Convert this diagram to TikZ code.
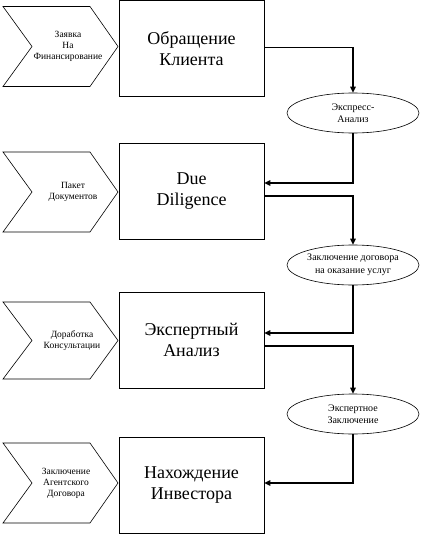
\documentclass[tikz,border=0pt]{standalone}
\usepackage{fontspec}
\setmainfont{Liberation Serif}
\usetikzlibrary{shapes.geometric,arrows.meta,calc}
\begin{document}
\begin{tikzpicture}[x=1pt,y=-1pt,
  proc/.style={draw, line width=0.7pt, minimum width=145pt, minimum height=96pt, inner sep=0pt, align=center, font=\fontsize{18}{21}\selectfont},
  evt/.style={ellipse, draw, line width=0.6pt, minimum width=132pt, minimum height=40pt, inner sep=0pt, align=center, font=\fontsize{10}{12.5}\selectfont},
  chev/.style={draw, line width=0.6pt},
  lbl/.style={align=center, inner sep=0pt, font=\fontsize{9.5}{11}\selectfont},
  flow/.style={line width=1.4pt, -{Triangle[length=6pt,width=5.5pt]}}
]
\useasboundingbox (0,0) rectangle (420,535);
% process boxes
\node[proc] (b1) at (191.5,48.5) {Обращение\\Клиента};
\node[proc] (b2) at (191.5,191) {Due\\Diligence};
\node[proc] (b3) at (191.5,340) {Экспертный\\Анализ};
\node[proc] (b4) at (191.5,485.5) {Нахождение\\Инвестора};
% events
\node[evt] (e1) at (353,113) {Экспресс-\\Анализ};
\node[evt] (e2) at (353,265) {Заключение договора\\на оказание услуг};
\node[evt] (e3) at (353,414) {Экспертное\\Заключение};
% chevrons
\draw[chev] (3,6.5) -- (90,6.5) -- (118,46.5) -- (90,86.5) -- (3,86.5) -- (32,46.5) -- cycle;
\draw[chev] (3,152) -- (90,152) -- (118,192) -- (90,232) -- (3,232) -- (32,192) -- cycle;
\draw[chev] (3,302) -- (90,302) -- (118,340.5) -- (90,379) -- (3,379) -- (32,340.5) -- cycle;
\draw[chev] (3,443) -- (90,443) -- (118,483) -- (90,523) -- (3,523) -- (32,483) -- cycle;
\node[lbl] (c1) at (68,46.5) {Заявка\\На\\Финансирование};
\node[lbl] (c2) at (73,192) {Пакет\\Документов};
\node[lbl] (c3) at (72,340.5) {Доработка\\Консультации};
\node[lbl] (c4) at (66,483) {Заключение\\Агентского\\Договора};
% connectors
\draw[flow] ([yshift=1pt]b1.east) -| (e1.north);
\draw[flow] (e1.south) |- ([yshift=8pt]b2.east);
\draw[flow] ([yshift=-5pt]b2.east) -| (e2.north);
\draw[flow] (e2.south) |- ([yshift=7pt]b3.east);
\draw[flow] ([yshift=-6pt]b3.east) -| (e3.north);
\draw[flow] (e3.south) |- ([yshift=2.5pt]b4.east);
\end{tikzpicture}
\end{document}
